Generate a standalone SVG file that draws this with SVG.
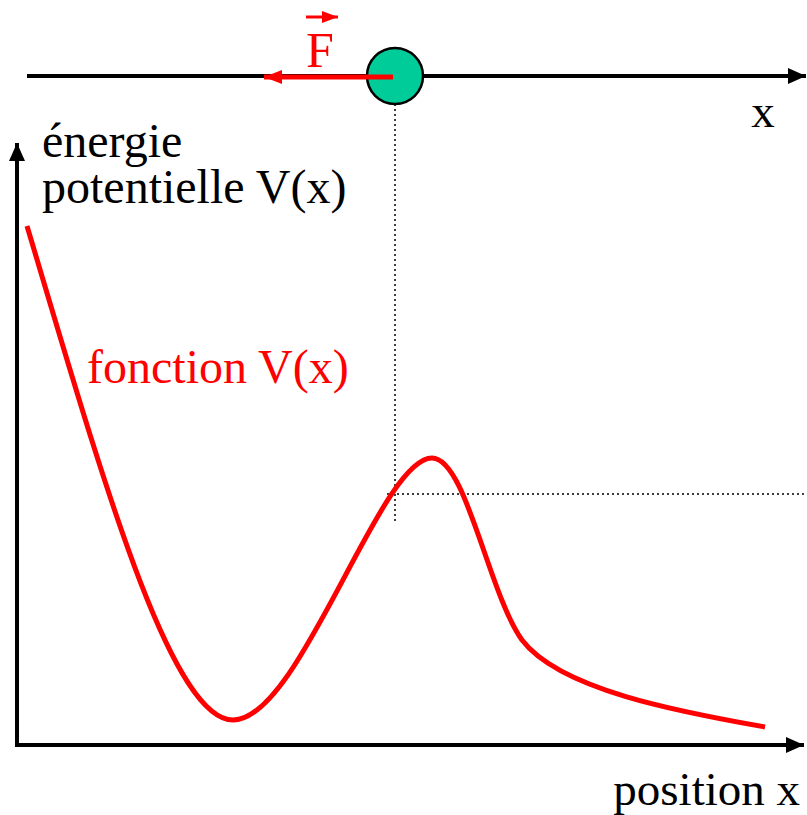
<svg xmlns="http://www.w3.org/2000/svg" width="807" height="815" viewBox="0 0 807 815" font-family="Liberation Serif, Times New Roman, serif">
<style>
.ax{stroke:#000;stroke-width:4;fill:none;}
.dot{stroke:#000;stroke-width:1.5;stroke-dasharray:2 3;fill:none;}
.red{stroke:#f00;fill:none;}
</style>
<defs>
<marker id="ab" markerUnits="userSpaceOnUse" markerWidth="20" markerHeight="16" refX="18" refY="8" orient="auto">
<path d="M0,0 L18,8 L0,16 Z" fill="#000"/>
</marker>
<marker id="ar" markerUnits="userSpaceOnUse" markerWidth="20" markerHeight="16" refX="18" refY="8" orient="auto">
<path d="M0,1 L18,8 L0,15 Z" fill="#f00"/>
</marker>
<marker id="ars" markerUnits="userSpaceOnUse" markerWidth="18" markerHeight="12" refX="16" refY="6" orient="auto">
<path d="M0,0 L16,6 L0,12 Z" fill="#f00"/>
</marker>
</defs>
<rect width="807" height="815" fill="#fff"/>
<g id="axes">
<line class="ax" x1="27" y1="76" x2="806" y2="76" marker-end="url(#ab)"/>
<line class="ax" x1="17" y1="745" x2="17" y2="143" marker-end="url(#ab)"/>
<line class="ax" x1="15" y1="745" x2="804" y2="745" marker-end="url(#ab)"/>
</g>
<g id="guides">
<line class="dot" x1="395" y1="104" x2="395" y2="522"/>
<line class="dot" x1="387" y1="494" x2="807" y2="494"/>
</g>
<g id="curve">
<path class="red" stroke-width="5" d="M27,226 C100,470 170,720 233,720 C300,720 380,458 432,458 C466,458 488,592 522,640 C560,690 680,712 765,727"/>
</g>
<g id="particle">
<circle cx="395" cy="76" r="28" fill="#00cc99" stroke="#000" stroke-width="2.5"/>
</g>
<g id="force">
<line class="red" stroke-width="5" x1="393" y1="77" x2="264" y2="77" marker-end="url(#ar)"/>
<text x="320" y="67" font-size="50" fill="#f00" text-anchor="middle" font-family="Liberation Serif, serif">F</text>
<line class="red" stroke-width="3" x1="306" y1="17" x2="338" y2="17" marker-end="url(#ars)"/>
</g>
<g id="labels" font-family="Liberation Serif, serif">
<text x="763" y="127" font-size="47" text-anchor="middle" font-family="Liberation Serif, serif">x</text>
<text x="42" y="157" font-size="48" font-family="Liberation Serif, serif">énergie</text>
<text x="42" y="203" font-size="48" font-family="Liberation Serif, serif">potentielle V(x)</text>
<text x="87" y="383" font-size="48" fill="#f00" font-family="Liberation Serif, serif">fonction V(x)</text>
<text x="800" y="805" font-size="47" text-anchor="end" font-family="Liberation Serif, serif">position x</text>
</g>
</svg>
